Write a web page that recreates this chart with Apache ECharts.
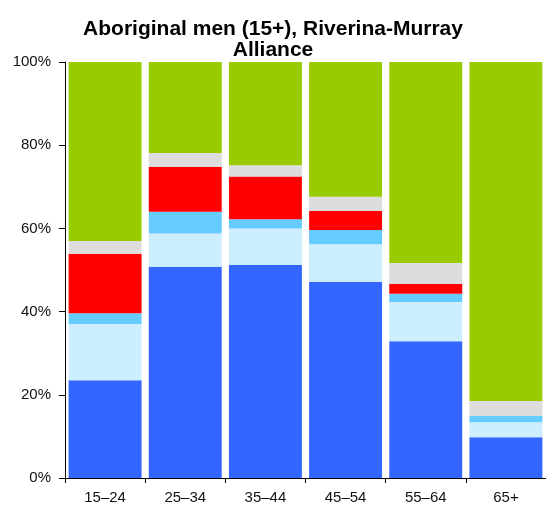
<!DOCTYPE html>
<html>
<head>
<meta charset="utf-8">
<script src="https://cdn.jsdelivr.net/npm/echarts@6/dist/echarts.min.js"></script>
<style>
  html, body { margin: 0; padding: 0; background: #fff; }
  #chartContainerID { width: 546px; height: 506px; }
</style>
</head>
<body>
<div id="chartContainerID"></div>
<script>
let chartContainerID = document.getElementById("chartContainerID");

// age groups
var categories = ['15\u201324', '25\u201334', '35\u201344', '45\u201354', '55\u201364', '65+'];
var yTickLabels = ['0%', '20%', '40%', '60%', '80%', '100%'];

// shares (%) per segment, bottom to top
var seg1 = [23.5, 50.8, 51.2, 47.2, 32.9, 9.8];
var seg2 = [13.5, 8.0, 8.8, 9.0, 9.4, 3.6];
var seg3 = [2.6, 5.2, 2.2, 3.4, 2.0, 1.5];
var seg4 = [14.3, 10.8, 10.3, 4.6, 2.4, 0];
var seg5 = [3.1, 3.3, 2.7, 3.4, 5.0, 3.6];
var seg6 = [43.0, 21.9, 24.8, 32.4, 48.3, 81.5];

var segNames = ['Segment 1', 'Segment 2', 'Segment 3', 'Segment 4', 'Segment 5', 'Segment 6'];
var segColors = ['#3366ff', '#cceeff', '#66ccff', '#ff0000', '#dddddd', '#99cc00'];
var segData = [seg1, seg2, seg3, seg4, seg5, seg6];

var myChart = echarts.init(chartContainerID);

var series = [];
for (var i = 0; i < segData.length; i++) {
  series.push({
    name: segNames[i],
    type: 'bar',
    stack: 'total',
    barCategoryGap: '9%',
    itemStyle: { color: segColors[i] },
    emphasis: { disabled: true },
    data: segData[i]
  });
}

var option = {
  animation: false,
  textStyle: { fontFamily: 'Liberation Sans, Arial, sans-serif' },
  title: {
    text: 'Aboriginal men (15+), Riverina-Murray\nAlliance',
    left: 268,
    textAlign: 'center',
    top: 14,
    textStyle: {
      fontSize: 21,
      fontWeight: 'bold',
      color: '#000',
      lineHeight: 21,
      fontFamily: 'Liberation Sans, Arial, sans-serif'
    }
  },
  grid: { left: 65, right: 0, top: 62, bottom: 28, containLabel: false },
  xAxis: {
    type: 'category',
    data: categories,
    axisLine: { lineStyle: { color: '#000', width: 1 } },
    axisTick: { show: true, length: 5, lineStyle: { color: '#000' } },
    axisLabel: { color: '#111', fontSize: 15, margin: 12 },
    splitLine: { show: false }
  },
  yAxis: {
    type: 'value',
    min: 0,
    max: 100,
    interval: 20,
    axisLine: { show: true, lineStyle: { color: '#000', width: 1 } },
    axisTick: { show: true, length: 6, lineStyle: { color: '#000' } },
    axisLabel: {
      color: '#111',
      fontSize: 15,
      margin: 14,
      formatter: function (v) { return yTickLabels[Math.round(v / 20)]; }
    },
    splitLine: { show: false }
  },
  series: series
};

myChart.setOption(option);
</script>
</body>
</html>
